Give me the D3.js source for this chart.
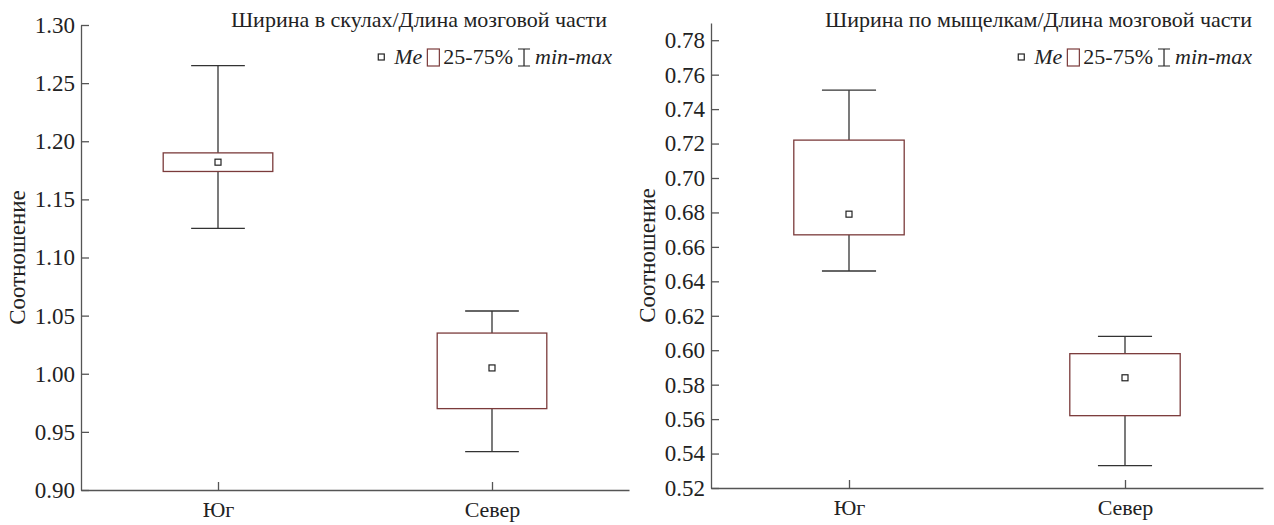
<!DOCTYPE html>
<html>
<head>
<meta charset="utf-8">
<script src="https://cdn.jsdelivr.net/npm/d3@7"></script>
<style>
  body { margin: 0; background: #fff; }
  svg text { font-family: "Liberation Serif", "Times New Roman", serif !important; fill: #222; }
  .axis path, .axis line { stroke: #555; stroke-width: 1.3; }
</style>
</head>
<body>
<svg id="chart"></svg>
<script>
// data
var categories = ['Юг', 'Север'];

// panel 1: Ширина в скулах/Длина мозговой части
var min1 = [1.125, 0.933];
var q1_1 = [1.174, 0.970];
var med1 = [1.182, 1.005];
var q3_1 = [1.190, 1.035];
var max1 = [1.265, 1.054];
var ticks1 = [0.90, 0.95, 1.00, 1.05, 1.10, 1.15, 1.20, 1.25, 1.30];

// panel 2: Ширина по мыщелкам/Длина мозговой части
var min2 = [0.646, 0.533];
var q1_2 = [0.667, 0.562];
var med2 = [0.679, 0.584];
var q3_2 = [0.722, 0.598];
var max2 = [0.751, 0.608];
var ticks2 = [0.52, 0.54, 0.56, 0.58, 0.60, 0.62, 0.64, 0.66, 0.68, 0.70, 0.72, 0.74, 0.76, 0.78];

var titles = ['Ширина в скулах/Длина мозговой части', 'Ширина по мыщелкам/Длина мозговой части'];
var yLabel = 'Соотношение';

var svgWidth = 1274, svgHeight = 525;
var serif = '"Liberation Serif", "Times New Roman", serif';

var svg = d3.select('#chart')
  .attr('width', svgWidth)
  .attr('height', svgHeight)
  .attr('font-family', serif);

var panels = [
  { left: 81, right: 629, top: 25, bottom: 490, domain: [0.90, 1.30], ticks: ticks1,
    min: min1, q1: q1_1, med: med1, q3: q3_1, max: max1, title: titles[0],
    titleX: 607, legX: 612, ylabX: 25 },
  { left: 711, right: 1263, top: 23, bottom: 488, domain: [0.52, 0.79], ticks: ticks2,
    min: min2, q1: q1_2, med: med2, q3: q3_2, max: max2, title: titles[1],
    titleX: 1252, legX: 1252, ylabX: 655 }
];

var boxStroke = '#7b3b3b', whiskerStroke = '#333';

panels.forEach(function(p) {
  var w = p.right - p.left, h = p.bottom - p.top;
  var g = svg.append('g').attr('transform', 'translate(' + p.left + ',' + p.top + ')');

  var x = d3.scalePoint().domain(categories).range([0, w]).padding(0.5);
  var y = d3.scaleLinear().domain(p.domain).range([h, 0]);
  var boxW = w * 0.2, capW = w * 0.098;

  // axes
  g.append('g').attr('class', 'axis')
    .call(d3.axisLeft(y).tickValues(p.ticks).tickFormat(d3.format('.2f'))
      .tickSizeInner(-8).tickSizeOuter(0).tickPadding(6))
    .attr('font-family', serif).attr('font-size', 23);

  g.append('g').attr('class', 'axis')
    .attr('transform', 'translate(0,' + h + ')')
    .call(d3.axisBottom(x).tickSizeInner(-8).tickSizeOuter(0).tickPadding(11))
    .attr('font-family', serif).attr('font-size', 22);

  var rows = categories.map(function(c, i) {
    return { c: c, min: p.min[i], q1: p.q1[i], med: p.med[i], q3: p.q3[i], max: p.max[i] };
  });

  var box = g.selectAll('.box').data(rows).enter().append('g').attr('class', 'box');

  // whiskers
  box.append('line')
    .attr('x1', function(d) { return x(d.c); })
    .attr('x2', function(d) { return x(d.c); })
    .attr('y1', function(d) { return y(d.q3); })
    .attr('y2', function(d) { return y(d.max); })
    .attr('stroke', whiskerStroke).attr('stroke-width', 1.3);
  box.append('line')
    .attr('x1', function(d) { return x(d.c); })
    .attr('x2', function(d) { return x(d.c); })
    .attr('y1', function(d) { return y(d.q1); })
    .attr('y2', function(d) { return y(d.min); })
    .attr('stroke', whiskerStroke).attr('stroke-width', 1.3);
  ['max', 'min'].forEach(function(k) {
    box.append('line')
      .attr('x1', function(d) { return x(d.c) - capW / 2; })
      .attr('x2', function(d) { return x(d.c) + capW / 2; })
      .attr('y1', function(d) { return y(d[k]); })
      .attr('y2', function(d) { return y(d[k]); })
      .attr('stroke', whiskerStroke).attr('stroke-width', 1.3);
  });

  // 25-75% box
  box.append('rect')
    .attr('x', function(d) { return x(d.c) - boxW / 2; })
    .attr('width', boxW)
    .attr('y', function(d) { return y(d.q3); })
    .attr('height', function(d) { return y(d.q1) - y(d.q3); })
    .attr('fill', '#fff')
    .attr('stroke', boxStroke).attr('stroke-width', 1.3);

  // median marker
  box.append('rect')
    .attr('x', function(d) { return x(d.c) - 3; })
    .attr('y', function(d) { return y(d.med) - 3; })
    .attr('width', 6).attr('height', 6)
    .attr('fill', '#fff').attr('stroke', '#222').attr('stroke-width', 1.2);

  // title
  svg.append('text')
    .attr('x', p.titleX).attr('y', 27)
    .attr('text-anchor', 'end').attr('font-size', 22)
    .text(p.title);

  // legend
  var leg = svg.append('text')
    .attr('x', p.legX).attr('y', 64)
    .attr('text-anchor', 'end').attr('font-size', 22);
  leg.append('tspan').attr('font-style', 'italic').text('Me');
  leg.append('tspan').attr('dx', 21).text('25-75%');
  leg.append('tspan').attr('dx', 22).attr('font-style', 'italic').text('min-max');

  var legItems = leg.selectAll('tspan').nodes().map(function(n) {
    return { s: n.getStartPositionOfChar(0).x, e: n.getEndPositionOfChar(n.getNumberOfChars() - 1).x };
  });
  var cy = 57;
  // Me marker
  svg.append('rect')
    .attr('x', legItems[0].s - 16).attr('y', cy - 3)
    .attr('width', 6).attr('height', 6)
    .attr('fill', '#fff').attr('stroke', '#222').attr('stroke-width', 1.2);
  // box marker
  svg.append('rect')
    .attr('x', legItems[1].s - 16).attr('y', cy - 8)
    .attr('width', 12).attr('height', 17)
    .attr('fill', '#fff').attr('stroke', boxStroke).attr('stroke-width', 1.2);
  // whisker marker
  var wx = legItems[2].s - 11;
  svg.append('path')
    .attr('d', 'M' + (wx - 6) + ',' + (cy - 8) + 'H' + (wx + 6) +
               'M' + wx + ',' + (cy - 8) + 'V' + (cy + 9) +
               'M' + (wx - 6) + ',' + (cy + 9) + 'H' + (wx + 6))
    .attr('fill', 'none').attr('stroke', '#222').attr('stroke-width', 1.2);

  // y label
  svg.append('text')
    .attr('transform', 'translate(' + p.ylabX + ',' + (p.top + h / 2) + ') rotate(-90)')
    .attr('text-anchor', 'middle').attr('font-size', 23)
    .text(yLabel);
});
</script>
</body>
</html>
